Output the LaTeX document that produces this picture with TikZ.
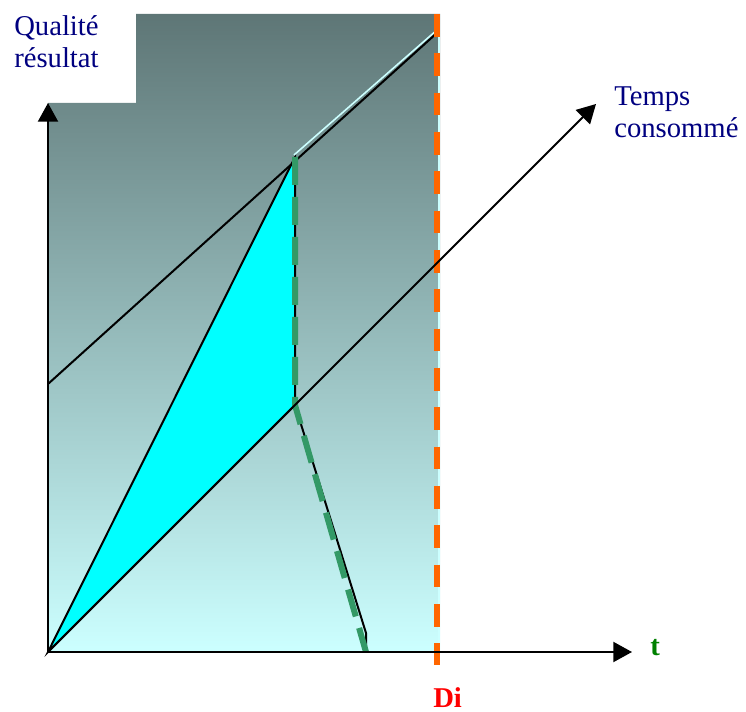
\documentclass[tikz,border=0pt]{standalone}
\usepackage{fontspec}
\setmainfont{Liberation Serif}
\usetikzlibrary{arrows.meta}
\definecolor{slatetop}{RGB}{94,118,118}
\definecolor{slatemid}{RGB}{150,192,192}
\definecolor{paleaqua}{RGB}{204,255,255}
\definecolor{aqua}{RGB}{0,255,255}
\definecolor{labelblue}{RGB}{0,0,128}
\definecolor{dashgreen}{RGB}{51,153,102}
\definecolor{dashorange}{RGB}{255,102,0}
\definecolor{tgreen}{RGB}{0,128,0}
\begin{document}
\begin{tikzpicture}[
  x=0.75pt, y=-0.75pt,
  axis/.style={line width=1.5pt, -{Triangle[width=15pt,length=14pt]}},
  edge/.style={line width=1.5pt},
  label/.style={text=labelblue, font=\fontsize{21.5pt}{24.5pt}\selectfont, align=left, inner sep=0pt, anchor=north west},
  mark label/.style={font=\fontsize{21.5pt}{24pt}\selectfont\bfseries, inner sep=0pt, anchor=base west}
]
\useasboundingbox (0,0) rectangle (746,712);
\coordinate (O) at (48,652);
\coordinate (apex) at (295,157);
\coordinate (knee) at (295,405);
\coordinate (foot) at (366,633);
\coordinate (footbase) at (366,652);
\coordinate (qstart) at (48,384);
\coordinate (qend) at (438,32);
\coordinate (ditop) at (437,14);
\coordinate (dibot) at (437,665);
\coordinate (ytip) at (48,103);
\coordinate (xtip) at (632,652);
\coordinate (ttip) at (596,104);

\shade[top color=slatetop, middle color=slatemid, bottom color=paleaqua]
  (48,652) -- (48,103) -- (136,103) -- (136,14) -- (440,14) -- (440,652) -- cycle;
\draw[paleaqua, line width=1.5pt] (439,14) -- (439,652);

\draw[edge, fill=aqua] (O) -- (apex) -- (knee) -- cycle;
\draw[paleaqua, line width=1.2pt] ([shift={(-1,-2)}]apex) -- ([shift={(-1,-2)}]qend);
\draw[edge] (qstart) -- (qend);
\draw[edge] (knee) -- (foot) -- (footbase);
\draw[dashgreen, line width=4.5pt, dash pattern=on 21pt off 9pt] (apex) -- (knee) -- (footbase);
\draw[dashorange, line width=4.5pt, dash pattern=on 17pt off 12.5pt] (ditop) -- (dibot);

\draw[axis] (O) -- (ttip);
\draw[axis] (O) -- (ytip);
\draw[axis] (O) -- (xtip);

\node[label] (quality) at (14,15) {Qualité\\résultat};
\node[label] (elapsed) at (614,86) {Temps\\consommé};
\node[mark label, text=tgreen] (tlabel) at (650,655) {t};
\node[mark label, text=red] (deadline) at (433,707) {Di};
\end{tikzpicture}
\end{document}
